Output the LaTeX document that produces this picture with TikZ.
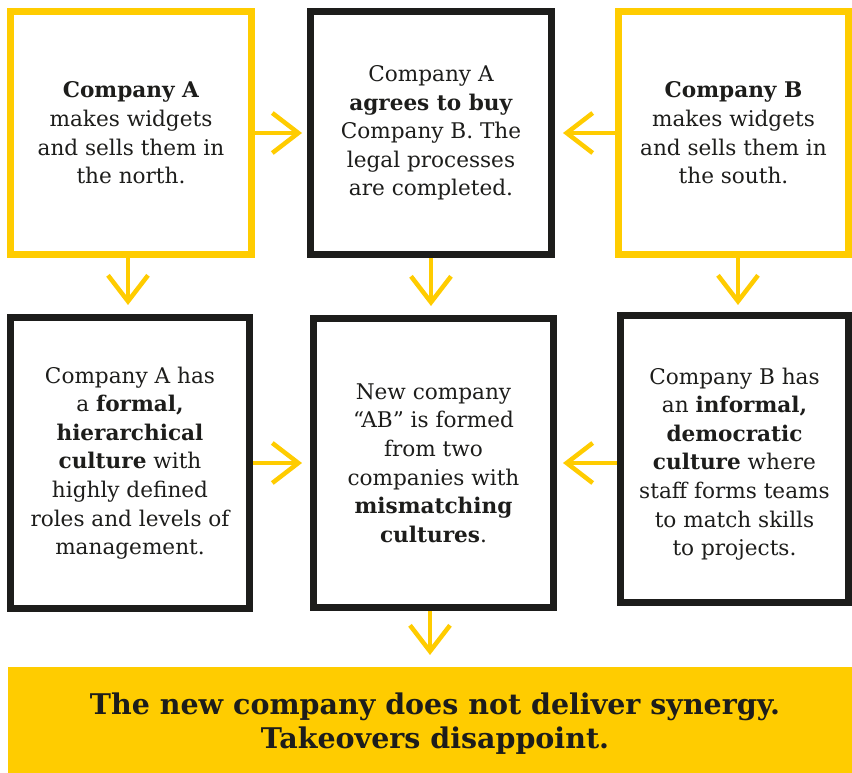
\documentclass[tikz,border=0pt]{standalone}
\usepackage{fontspec}
\setmainfont{DejaVu Serif}
\usetikzlibrary{arrows.meta}
\definecolor{ylw}{HTML}{FFCC00}
\definecolor{ink}{HTML}{1D1D1B}
\begin{document}
\begin{tikzpicture}[x=1pt,y=-1pt,
 txt/.style={align=center, text=ink, font=\fontsize{21.6}{28.6}\selectfont, inner sep=0pt},
 box/.style={rectangle, line width=7pt, txt},
 ybox/.style={box, draw=ylw},
 kbox/.style={box, draw=ink},
 arr/.style={draw=ylw, line width=4.5pt, -{Straight Barb[length=26pt,width=40pt]}}
]
\useasboundingbox (0,0) rectangle (852,773);
\fill[white] (0,0) rectangle (852,773);

\node[ybox, minimum width=241pt, minimum height=243pt] (A) at (131,133)
  {\textbf{Company A}\\makes widgets\\and sells them in\\the north.};
\node[kbox, minimum width=241pt, minimum height=243pt] (M1) at (431,133)
  {Company A\\\textbf{agrees to buy}\\Company B. The\\legal processes\\are completed.};
\node[ybox, minimum width=230pt, minimum height=243pt] (B) at (733.5,133)
  {\textbf{Company B}\\makes widgets\\and sells them in\\the south.};

\node[kbox, minimum width=239pt, minimum height=291pt] (L) at (130,463)
  {Company A has\\a \textbf{formal,}\\\textbf{hierarchical}\\\textbf{culture} with\\highly defined\\roles and levels of\\management.};
\node[kbox, minimum width=240pt, minimum height=289pt] (M2) at (433.5,463)
  {New company\\“AB” is formed\\from two\\companies with\\\textbf{mismatching}\\\textbf{cultures}.};
\node[kbox, minimum width=228pt, minimum height=287pt] (R) at (734.5,459) {};
\node[txt] (Rt) at (734.5,464)
  {Company B has\\an \textbf{informal,}\\\textbf{democratic}\\\textbf{culture} where\\staff forms teams\\to match skills\\to projects.};

\node[fill=ylw, minimum width=844pt, minimum height=106pt, inner sep=0pt, outer sep=0pt] (bar) at (430,720) {};
\node[align=center, text=ink, inner sep=0pt, font=\fontsize{28.5}{34}\selectfont\bfseries] (bart) at (435,724)
  {The new company does not deliver synergy.\\Takeovers disappoint.};

\draw[arr, shorten >=5pt] (A) -- (M1);
\draw[arr, shorten >=8pt] (B) -- (M1);
\draw[arr, shorten >=9pt] ([xshift=-3pt]A.south) -- ([xshift=-3pt]A.south |- L.north);
\draw[arr, shorten >=9pt] (M1.south) -- (M1.south |- M2.north);
\draw[arr, shorten >=7pt] ([xshift=4.5pt]B.south) -- ([xshift=4.5pt]B.south |- R.north);
\draw[arr, shorten >=8pt] (L.east) -- (L.east -| M2.west);
\draw[arr, shorten >=6pt] (R.west |- L.east) -- (M2.east |- L.east);
\draw[arr, shorten >=12pt] ([xshift=-3.5pt]M2.south) -- ([xshift=-3.5pt]M2.south |- bar.north);
\end{tikzpicture}
\end{document}
